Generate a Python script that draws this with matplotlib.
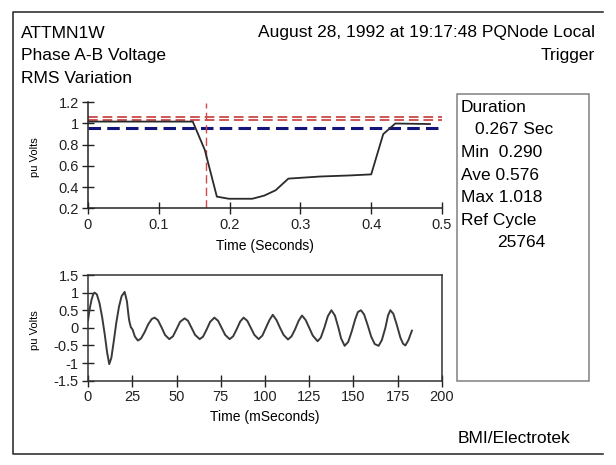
import matplotlib
matplotlib.use('Agg')
import matplotlib.pyplot as plt
from matplotlib.lines import Line2D
from matplotlib.patches import Rectangle
from matplotlib.ticker import FuncFormatter

plt.rcParams['font.family'] = ['Liberation Sans', 'DejaVu Sans']
plt.rcParams['axes.unicode_minus'] = False
plt.rcParams['lines.scale_dashes'] = False

# RMS variation (top panel)
rms_t = [0.0, 0.148, 0.165, 0.182, 0.199, 0.232, 0.249, 0.265, 0.283, 0.328,
         0.37, 0.40, 0.417, 0.434, 0.483]
rms_v = [1.018, 1.018, 0.75, 0.31, 0.29, 0.29, 0.32, 0.37, 0.48, 0.50,
         0.51, 0.52, 0.90, 1.0, 0.995]
upper_limits = [1.06, 1.03]
lower_limit = 0.96
trigger_time = 0.1667

# waveform (bottom panel), ms and pu
wave_t = [0, 1, 2, 3, 3.7, 5, 6.5, 8, 9.5, 10.8, 12, 13.2, 14.5, 16, 17.5, 19, 20.7,
          22, 23, 23.4, 24.2, 25.2, 26.5, 28.2, 30, 32, 34, 36, 37.6, 39.5, 41.5,
          43.5, 45.9, 48, 50, 52, 54.6, 56.5, 58.5, 60.5, 63.1, 65, 67, 69, 71.4,
          73.5, 75.5, 77.5, 80, 82, 84, 86, 87.9, 90, 92, 94, 96.4, 98.5, 100.5,
          102.5, 104.4, 106.5, 108.5, 110.5, 113, 115, 117, 119, 120.9, 123, 125,
          127, 129.7, 131.5, 133.5, 135.5, 137.5, 139.5, 141.5, 143, 145, 147, 149,
          151, 152.5, 154.2, 156, 158, 160, 162, 164.2, 166, 168, 169.5, 170.8,
          172.5, 174.5, 176.5, 178, 179.3, 181, 183]
wave_v = [0.22, 0.55, 0.8, 0.96, 1.0, 0.95, 0.7, 0.3, -0.2, -0.7, -1.03, -0.85, -0.4,
          0.15, 0.6, 0.9, 1.02, 0.75, 0.3, 0.18, 0.02, -0.05, -0.25, -0.36, -0.3,
          -0.12, 0.1, 0.25, 0.29, 0.22, 0.02, -0.2, -0.32, -0.24, -0.04, 0.17, 0.27,
          0.2, 0.0, -0.2, -0.32, -0.25, -0.05, 0.17, 0.29, 0.2, 0.0, -0.2, -0.32,
          -0.24, -0.04, 0.18, 0.29, 0.2, 0.0, -0.2, -0.32, -0.22, 0.0, 0.22, 0.37,
          0.22, 0.0, -0.2, -0.33, -0.24, -0.04, 0.2, 0.35, 0.22, 0.0, -0.22, -0.38,
          -0.28, 0.0, 0.33, 0.5, 0.35, 0.0, -0.3, -0.51, -0.4, -0.1, 0.25, 0.45, 0.5,
          0.38, 0.08, -0.25, -0.46, -0.51, -0.35, 0.0, 0.35, 0.5, 0.4, 0.08, -0.28,
          -0.45, -0.5, -0.35, -0.08]

stats = [('Duration', 0), ('0.267 Sec', 1), ('Min  0.290', 0), ('Ave 0.576', 0),
         ('Max 1.018', 0), ('Ref Cycle', 0), ('25764', 2)]

W, H = 616, 465
fig = plt.figure(figsize=(W / 100, H / 100), dpi=100)


def fx(px):
    return px / W


def fy(py):
    return 1 - py / H


fmt = FuncFormatter(lambda v, p: f'{v:g}')


def style_ticks(ax):
    ax.tick_params(direction='inout', length=8.5, width=1, pad=2.5,
                   labelsize=10.5, colors='#222222')
    ax.xaxis.set_major_formatter(fmt)
    ax.yaxis.set_major_formatter(fmt)


# top panel
ax1 = fig.add_axes([fx(88), fy(208.3), fx(354), (208.3 - 102.3) / H])
ax1.plot(rms_t, rms_v, color='#2a2a2a', lw=1.3, zorder=3)
ax1.axhline(upper_limits[0], color='#c02828', lw=1.1, dashes=(7, 3.5), zorder=2)
ax1.axhline(upper_limits[1], color='#c02828', lw=1.1, dashes=(7, 3.5), zorder=2)
ax1.axhline(lower_limit, color='#14147a', lw=2.2, dashes=(9, 4.5), zorder=2)
ax1.plot([trigger_time, trigger_time], [0.2, 1.19], color='#d04848', lw=1.0,
         dashes=(6, 3), zorder=2)
ax1.set_xlim(0, 0.5)
ax1.set_ylim(0.2, 1.2)
ax1.set_xticks([0, 0.1, 0.2, 0.3, 0.4, 0.5])
ax1.set_yticks([0.2, 0.4, 0.6, 0.8, 1.0, 1.2])
for s in ['top', 'right']:
    ax1.spines[s].set_visible(False)
for s in ['left', 'bottom']:
    ax1.spines[s].set_linewidth(1.1)
    ax1.spines[s].set_color('#222222')
style_ticks(ax1)
ax1.set_xlabel('Time (Seconds)', fontsize=10)
ax1.xaxis.set_label_coords(0.5, -0.29)
ax1.set_ylabel('pu Volts', fontsize=8)
ax1.yaxis.set_label_coords(-0.135, 0.48)

# bottom panel
ax2 = fig.add_axes([fx(88), fy(380.7), fx(354), (380.7 - 275) / H])
ax2.plot(wave_t, wave_v, color='#3a3a3a', lw=1.4, solid_joinstyle='round')
ax2.set_xlim(0, 200)
ax2.set_ylim(-1.5, 1.5)
ax2.set_xticks(range(0, 201, 25))
ax2.set_yticks([-1.5, -1, -0.5, 0, 0.5, 1, 1.5])
for s in ax2.spines.values():
    s.set_linewidth(1.1)
    s.set_color('#333333')
style_ticks(ax2)
ax2.set_xlabel('Time (mSeconds)', fontsize=10)
ax2.xaxis.set_label_coords(0.5, -0.28)
ax2.set_ylabel('pu Volts', fontsize=8)
ax2.yaxis.set_label_coords(-0.135, 0.48)

# header
tfs = 12.5
fig.text(fx(21), fy(37.5), 'ATTMN1W', fontsize=tfs, va='baseline')
fig.text(fx(21), fy(60), 'Phase A-B Voltage', fontsize=tfs, va='baseline')
fig.text(fx(21), fy(82.5), 'RMS Variation', fontsize=tfs, va='baseline')
fig.text(fx(595), fy(37.5), 'August 28, 1992 at 19:17:48 PQNode Local',
         fontsize=tfs, va='baseline', ha='right')
fig.text(fx(595), fy(60), 'Trigger', fontsize=tfs, va='baseline', ha='right')

# stats box
fig.patches.append(Rectangle((fx(456.7), fy(380.7)), fx(589.3 - 456.7),
                             (380.7 - 94) / H, transform=fig.transFigure,
                             fill=False, edgecolor='#808080', lw=1.1))
indent = [460.7, 475, 497.3]
base = 111.7
for i, (txt, lvl) in enumerate(stats):
    fig.text(fx(indent[lvl]), fy(base + i * 22.6), txt, fontsize=tfs,
             va='baseline')
fig.text(fx(457.3), fy(442.7), 'BMI/Electrotek', fontsize=tfs, va='baseline')

# outer frame (left, top, bottom)
fig.add_artist(Line2D([fx(603), fx(13), fx(13), fx(603)],
                      [fy(12), fy(12), fy(454), fy(454)],
                      transform=fig.transFigure, color='#222222', lw=1.1))

fig.savefig('out.png', dpi=100, facecolor='white')
